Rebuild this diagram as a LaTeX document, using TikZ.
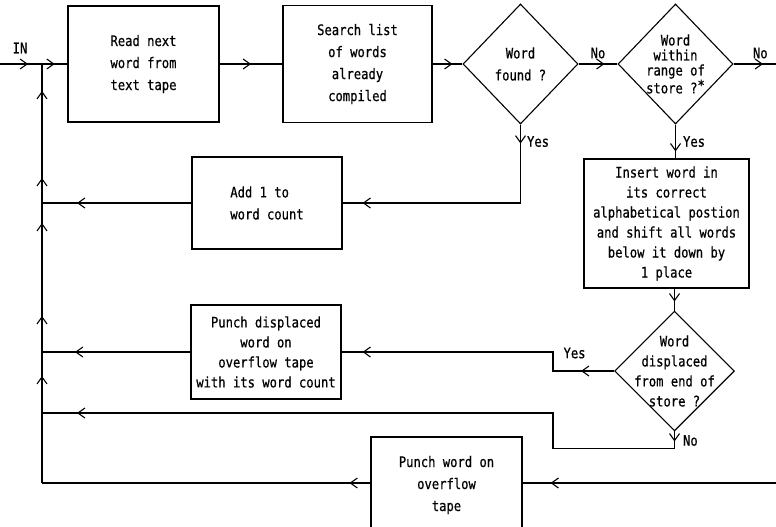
\documentclass[tikz,border=0pt]{standalone}
\usepackage{fontspec}
\newfontfamily\lettering[FakeStretch=0.84, FakeBold=0.6]{DejaVu Sans Mono}
\usetikzlibrary{shapes.geometric,arrows.meta,decorations.markings}

\begin{document}
\begin{tikzpicture}[
        x=1pt, y=-1pt,
        font=\lettering\fontsize{14.5}{22}\selectfont,
        line width=1.1pt,
        box/.style={draw, rectangle, align=center, inner sep=0pt},
        test/.style={draw, diamond, align=center, inner sep=-8pt,
            minimum width=115pt, minimum height=120pt},
        tight/.style={font=\lettering\fontsize{14.5}{15}\selectfont},
        close/.style={font=\lettering\fontsize{14.5}{20}\selectfont},
        arrowat/.style={postaction={decorate, decoration={markings,
            mark=at position #1 with {\arrow{Straight Barb[length=7pt,width=10pt]}}}}},
        answer/.style={inner sep=1pt}
    ]
        \useasboundingbox (0,0) rectangle (776,527);

        % boxes and tests
        \node[box, minimum width=151pt, minimum height=116pt] (read) at (143.5,64) {Read next\\word from\\text tape};
        \node[box, minimum width=149pt, minimum height=117pt] (search) at (357.5,64) {Search list\\of words\\already\\compiled};
        \node[test] (found) at (520.5,64) {Word\\found ?};
        \node[test, tight] (range) at (675.5,64) {Word\\within\\range of\\store ?\raisebox{3pt}{*}};
        \node[box, align=left, minimum width=150pt, minimum height=92pt] (add) at (267,203) {Add 1 to\\word count};
        \node[box, close, minimum width=165pt, minimum height=129pt] (insert) at (666.5,223.5)
            {Insert word in\\its correct\\alphabetical postion\\and shift all words\\below it down by\\1 place};
        \node[test, close, minimum width=119pt, minimum height=118pt] (displaced) at (674.5,371)
            {Word\\displaced\\from end of\\store ?};
        \node[box, close, minimum width=150pt, minimum height=94pt] (punchd) at (266,352)
            {Punch displaced\\word on\\overflow tape\\with its word count};
        \node[box, minimum width=151pt, minimum height=96pt] (punch) at (446.5,485) {Punch word on\\overflow\\tape};

        % entry, exits and the return line
        \node (inlabel) at (20,48) {IN};
        \coordinate (in) at (0,64);
        \coordinate (exit) at (776,64);
        \coordinate (ovf) at (776,483);
        \coordinate (bend) at (553,413);
        \foreach \n/\y in {0/64, 1/203, 2/352, 3/413, 4/483}
            \coordinate (j\n) at (42,\y);

        % main line
        \draw[arrowat=28pt] (in) -- (j0);
        \draw[arrowat=0.5] (j0) -- (read.west);
        \draw[arrowat=0.5] (read) -- (search);
        \draw[arrowat=-10pt] (search) -- (found);
        \draw[arrowat=-13pt] (found) -- (range) node[answer, midway, above=4pt] (no1) {No};
        \draw[arrowat=-13pt] (range) -- (exit) node[answer, pos=0.63, above=4pt] (no2) {No};

        % word found
        \draw[arrowat=19pt, arrowat=-20pt] (found.south) |- (add.east);
        \node[answer, anchor=west] (yes1) at ([xshift=5pt, yshift=-17pt]found.south) {Yes};
        \draw[arrowat=-35pt] (add) -- (j1);

        % word inserted
        \draw[arrowat=-7pt] (range.south) -- (range.south |- insert.north);
        \node[answer, anchor=west] (yes2) at ([xshift=6pt, yshift=-17pt]range.south) {Yes};
        \draw[arrowat=-9pt] (displaced.north |- insert.south) -- (displaced.north);

        % displaced word
        \draw[arrowat=33pt, arrowat=-21pt] (displaced.west) -- (displaced.west -| bend) |- (punchd.east);
        \node[answer, anchor=west] (yes3) at ([xshift=9pt, yshift=18pt]displaced.west -| bend) {Yes};
        \draw[arrowat=-33pt] (punchd) -- (j2);
        \draw[arrowat=10pt, arrowat=-35pt] (displaced.south) -- ++(0,17) -| (bend) -- (j3);
        \node[answer, anchor=west] (no3) at ([xshift=7pt, yshift=-9pt]displaced.south) {No};

        % overflow
        \draw[arrowat=-28pt] (ovf) -- (ovf -| punch.east);
        \draw[arrowat=21pt] (ovf -| punch.west) -- (j4);

        % return line
        \draw[arrowat=107pt, arrowat=167pt, arrowat=260pt, arrowat=305pt, arrowat=392pt] (j4) -- (j0);
    \end{tikzpicture}
\end{document}
